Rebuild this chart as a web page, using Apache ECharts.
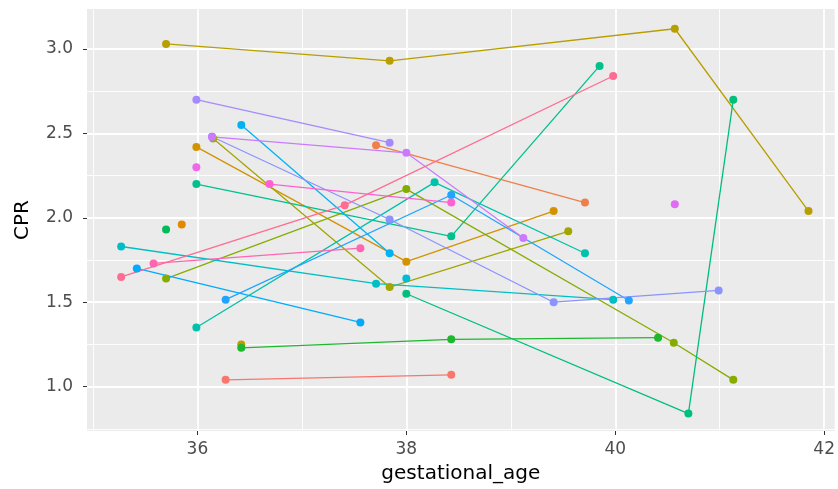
<!DOCTYPE html>
<html>
<head>
<meta charset="utf-8">
<script src="https://cdn.jsdelivr.net/npm/echarts@6/dist/echarts.min.js"></script>
<style>
  html, body { margin: 0; padding: 0; background: #ffffff; }
  #chart { width: 838px; height: 489px; }
</style>
</head>
<body>
<div id="chart"></div>
<script>
// tick values
const xMajorTicks = [36, 38, 40, 42]
const xMinorTicks = [35, 37, 39, 41]
const yMajorTicks = [1.0, 1.5, 2.0, 2.5, 3.0]
const yMinorTicks = [0.75, 1.25, 1.75, 2.25, 2.75]

// one array per subject: [gestational_age, CPR]
const s01 = [[36.27, 1.04], [38.43, 1.07]]
const s02 = [[37.71, 2.43], [39.71, 2.09]]
const s03 = [[35.85, 1.96]]
const s04 = [[35.99, 2.42], [38.0, 1.74], [39.41, 2.04]]
const s05 = [[36.42, 1.25]]
const s06 = [[35.70, 3.03], [37.84, 2.93], [40.57, 3.12], [41.85, 2.04]]
const s07 = [[36.15, 2.47], [37.84, 1.59], [39.55, 1.92]]
const s08 = [[35.70, 1.64], [38.0, 2.17], [40.56, 1.26], [41.13, 1.04]]
const s09 = [[36.42, 1.23], [38.43, 1.28], [40.41, 1.29]]
const s10 = [[35.70, 1.93]]
const s11 = [[38.0, 1.55], [40.70, 0.84], [41.13, 2.70]]
const s12 = [[35.99, 2.20], [38.43, 1.89], [39.85, 2.90]]
const s13 = [[35.99, 1.35], [38.27, 2.21], [39.71, 1.79]]
const s14 = [[35.27, 1.83], [37.71, 1.61], [39.98, 1.515]]
const s15 = [[38.0, 1.64]]
const s16 = [[36.42, 2.55], [37.84, 1.79]]
const s17 = [[35.42, 1.70], [37.56, 1.38]]
const s18 = [[36.27, 1.515], [38.43, 2.135], [40.13, 1.51]]
const s19 = [[36.14, 2.48], [37.84, 1.99], [39.41, 1.50], [40.99, 1.57]]
const s20 = [[35.99, 2.70], [37.84, 2.445]]
const s21 = [[36.14, 2.48], [38.0, 2.385], [39.12, 1.88]]
const s22 = [[35.99, 2.30]]
const s23 = [[40.57, 2.08]]
const s24 = [[36.69, 2.20], [38.43, 2.09]]
const s25 = [[35.58, 1.73], [37.56, 1.82]]
const s26 = [[35.27, 1.65], [37.41, 2.075], [39.98, 2.84]]

const subjects = [s01, s02, s03, s04, s05, s06, s07, s08, s09, s10, s11, s12, s13,
  s14, s15, s16, s17, s18, s19, s20, s21, s22, s23, s24, s25, s26]

const colors = [
  '#F8766D', '#EF7F49', '#E38900', '#D39200', '#C49A00', '#B79F00', '#A3A500',
  '#86AC00', '#1DB82E', '#00BC56', '#00BF7D', '#00C08D', '#00C1A9', '#00BFC4',
  '#00BBDA', '#00B2F3', '#00ABFD', '#1FA5FF', '#8B93FF', '#A58AFF', '#CB7AFF',
  '#EF67EB', '#E26BF5', '#FD61D1', '#FF65B0', '#FF6C91'
]

const font = 'DejaVu Sans'
const xMin = 34.943
const xMax = 42.10
const yMin = 0.737
const yMax = 3.237

const chart = echarts.init(document.getElementById('chart'), null, { renderer: 'canvas' })

// lines first, then points on top
const lineSeries = subjects.map((s, i) => ({
  type: 'line',
  data: s,
  symbol: 'none',
  silent: true,
  z: 2,
  lineStyle: { color: colors[i], width: 1.3 },
  itemStyle: { color: colors[i] }
}))
const pointSeries = subjects.map((s, i) => ({
  type: 'scatter',
  data: s,
  symbol: 'circle',
  symbolSize: 8,
  silent: true,
  z: 3,
  itemStyle: { color: colors[i], opacity: 1 }
}))

const option = {
  animation: false,
  backgroundColor: '#ffffff',
  grid: {
    left: 87,
    right: 0,
    top: 9,
    bottom: 56,
    show: true,
    backgroundColor: '#EBEBEB',
    borderWidth: 0
  },
  xAxis: [
    {
      type: 'value',
      min: xMin,
      max: xMax,
      position: 'bottom',
      axisLine: { show: false },
      axisTick: { show: true, length: 4, customValues: xMajorTicks, lineStyle: { color: '#333333', width: 1 } },
      axisLabel: { customValues: xMajorTicks, color: '#4D4D4D', fontSize: 17, fontFamily: font, margin: 10 },
      splitLine: { show: true, lineStyle: { color: '#ffffff', width: 1.8 } },
      name: 'gestational_age',
      nameLocation: 'middle',
      nameGap: 33,
      nameTextStyle: { color: '#000000', fontSize: 20, fontFamily: font }
    },
    {
      type: 'value',
      min: xMin,
      max: xMax,
      position: 'bottom',
      axisLine: { show: false },
      axisTick: { show: false, customValues: xMinorTicks },
      axisLabel: { show: false, customValues: xMinorTicks },
      splitLine: { show: true, lineStyle: { color: '#ffffff', width: 0.9 } }
    }
  ],
  yAxis: [
    {
      type: 'value',
      min: yMin,
      max: yMax,
      position: 'left',
      axisLine: { show: false },
      axisTick: { show: true, length: 4, customValues: yMajorTicks, lineStyle: { color: '#333333', width: 1 } },
      axisLabel: {
        customValues: yMajorTicks,
        color: '#4D4D4D',
        fontSize: 17,
        fontFamily: font,
        margin: 14,
        formatter: (v) => v.toFixed(1)
      },
      splitLine: { show: true, lineStyle: { color: '#ffffff', width: 1.8 } },
      name: 'CPR',
      nameLocation: 'middle',
      nameGap: 54,
      nameTextStyle: { color: '#000000', fontSize: 20, fontFamily: font }
    },
    {
      type: 'value',
      min: yMin,
      max: yMax,
      position: 'left',
      axisLine: { show: false },
      axisTick: { show: false, customValues: yMinorTicks },
      axisLabel: { show: false, customValues: yMinorTicks },
      splitLine: { show: true, lineStyle: { color: '#ffffff', width: 0.9 } }
    }
  ],
  series: [...lineSeries, ...pointSeries]
}

chart.setOption(option)
</script>
</body>
</html>
